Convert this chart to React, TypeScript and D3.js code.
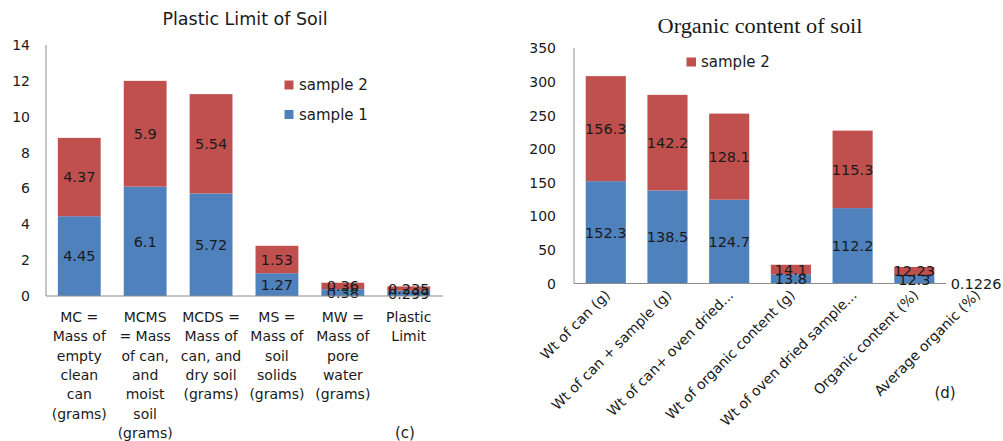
import React from "react";
import * as d3 from "d3";

// ---------- Left chart data ----------
const plasticCategories = ["MC", "MCMS", "MCDS", "MS", "MW", "PL"];
const plasticLabels = [
  ["MC =", "Mass of", "empty", "clean", "can", "(grams)"],
  ["MCMS", "= Mass", "of can,", "and", "moist", "soil", "(grams)"],
  ["MCDS =", "Mass of", "can, and", "dry soil", "(grams)"],
  ["MS =", "Mass of", "soil", "solids", "(grams)"],
  ["MW =", "Mass of", "pore", "water", "(grams)"],
  ["Plastic", "Limit"],
];
const plasticSample1 = [4.45, 6.1, 5.72, 1.27, 0.38, 0.299];
const plasticSample2 = [4.37, 5.9, 5.54, 1.53, 0.36, 0.235];
const plasticTicks = [0, 2, 4, 6, 8, 10, 12, 14];

// ---------- Right chart data ----------
const organicCategories = [
  "Wt of can (g)",
  "Wt of can + sample (g)",
  "Wt of can+  oven dried...",
  "Wt of organic content (g)",
  "Wt of oven dried sample...",
  "Organic content (%)",
  "Average organic (%)",
];
const organicSample1 = [152.3, 138.5, 124.7, 13.8, 112.2, 12.3, 0.1226];
const organicSample2: (number | null)[] = [156.3, 142.2, 128.1, 14.1, 115.3, 12.23, null];
const organicTicks = [0, 50, 100, 150, 200, 250, 300, 350];

const BLUE = "#4F81BD";
const RED = "#C0504D";
const AXIS = "#8c8c8c";
const TXT = "#1a1a1a";
const FONT = "DejaVu Sans";

export default function App() {
  // Left scales
  const yL = d3.scaleLinear().domain([0, 14]).range([296, 45]);
  const xL = d3
    .scaleBand<string>()
    .domain(plasticCategories)
    .range([46, 442])
    .paddingInner(0.35)
    .paddingOuter(0.18);

  // Right scales
  const yR = d3.scaleLinear().domain([0, 350]).range([283.5, 48.3]);
  const xR = d3
    .scaleBand<string>()
    .domain(organicCategories)
    .range([574, 1007.8])
    .paddingInner(0.35)
    .paddingOuter(0.19);

  const fmt = (v: number) => String(v);

  return (
    <svg
      width={1003}
      height={441}
      style={{ position: "absolute", left: 0, top: 0, background: "#fff" }}
      fontFamily={FONT}
    >
      <rect x={0} y={0} width={1003} height={441} fill="#fff" />

      {/* ================= LEFT CHART ================= */}
      <text x={245} y={25} textAnchor="middle" fontSize={17.5} fill={TXT}>
        Plastic Limit of Soil
      </text>
      {plasticTicks.map((t) => (
        <text
          key={t}
          x={30}
          y={yL(t)}
          dy="0.36em"
          textAnchor="end"
          fontSize={14}
          fill={TXT}
        >
          {t}
        </text>
      ))}
      {plasticCategories.map((c, i) => {
        const x = xL(c)!;
        const w = xL.bandwidth();
        const v1 = plasticSample1[i];
        const v2 = plasticSample2[i];
        return (
          <g key={c}>
            <rect x={x} y={yL(v1)} width={w} height={yL(0) - yL(v1)} fill={BLUE} />
            <rect x={x} y={yL(v1 + v2)} width={w} height={yL(v1) - yL(v1 + v2)} fill={RED} />
          </g>
        );
      })}
      {plasticCategories.map((c, i) => {
        const cx = xL(c)! + xL.bandwidth() / 2;
        const v1 = plasticSample1[i];
        const v2 = plasticSample2[i];
        return (
          <g key={c + "lbl"} fontSize={14.5} fill={TXT} textAnchor="middle">
            <text x={cx} y={yL(v1 / 2)} dy="0.36em">
              {fmt(v1)}
            </text>
            <text x={cx} y={yL(v1 + v2 / 2)} dy="0.36em">
              {fmt(v2)}
            </text>
          </g>
        );
      })}
      <line x1={46} x2={46} y1={45} y2={296} stroke={AXIS} strokeWidth={1} />
      <line x1={46} x2={443} y1={296} y2={296} stroke={AXIS} strokeWidth={1} />
      {plasticCategories.map((c, i) => {
        const cx = xL(c)! + xL.bandwidth() / 2;
        return (
          <text key={c + "x"} x={cx} y={322} textAnchor="middle" fontSize={14} fill={TXT}>
            {plasticLabels[i].map((ln, j) => (
              <tspan key={j} x={cx} y={322 + j * 19.3}>
                {ln}
              </tspan>
            ))}
          </text>
        );
      })}
      {/* legend */}
      <rect x={284.5} y={80.5} width={9} height={9} fill={RED} />
      <text x={299} y={90} fontSize={15} fill={TXT}>
        sample 2
      </text>
      <rect x={284.5} y={110} width={9} height={9} fill={BLUE} />
      <text x={299} y={120} fontSize={15} fill={TXT}>
        sample 1
      </text>
      <text x={405} y={438} textAnchor="middle" fontSize={15} fill={TXT}>
        (c)
      </text>

      {/* ================= RIGHT CHART ================= */}
      <text
        x={760}
        y={33}
        textAnchor="middle"
        fontSize={20}
        fontFamily="Liberation Serif"
        fill={TXT}
        textLength={205}
        lengthAdjust="spacingAndGlyphs"
      >
        Organic content of soil
      </text>
      {organicTicks.map((t) => (
        <text
          key={t}
          x={556}
          y={yR(t)}
          dy="0.36em"
          textAnchor="end"
          fontSize={14}
          fill={TXT}
        >
          {t}
        </text>
      ))}
      {organicCategories.map((c, i) => {
        const x = xR(c)!;
        const w = xR.bandwidth();
        const v1 = organicSample1[i];
        const v2 = organicSample2[i];
        return (
          <g key={c}>
            <rect x={x} y={yR(v1)} width={w} height={yR(0) - yR(v1)} fill={BLUE} />
            {v2 != null && (
              <rect x={x} y={yR(v1 + v2)} width={w} height={yR(v1) - yR(v1 + v2)} fill={RED} />
            )}
          </g>
        );
      })}
      <line x1={574} x2={574} y1={48} y2={283.5} stroke={AXIS} strokeWidth={1} />
      <line x1={574} x2={946} y1={283.5} y2={283.5} stroke={AXIS} strokeWidth={1} />
      {organicCategories.map((c, i) => {
        const cx = xR(c)! + xR.bandwidth() / 2;
        const v1 = organicSample1[i];
        const v2 = organicSample2[i];
        return (
          <g key={c + "lbl"} fontSize={14.5} fill={TXT} textAnchor="middle">
            <text x={cx} y={yR(v1 / 2)} dy="0.36em">
              {fmt(v1)}
            </text>
            {v2 != null && (
              <text x={cx} y={yR(v1 + v2 / 2)} dy="0.36em">
                {fmt(v2)}
              </text>
            )}
          </g>
        );
      })}
      {organicCategories.map((c) => {
        const cx = xR(c)! + xR.bandwidth() / 2;
        return (
          <text
            key={c + "x"}
            transform={`translate(${cx + 5},${296}) rotate(-45)`}
            textAnchor="end"
            fontSize={14}
            fill={TXT}
          >
            {c}
          </text>
        );
      })}
      <rect x={686.5} y={57.5} width={9.5} height={9} fill={RED} />
      <text x={701} y={67} fontSize={15} fill={TXT}>
        sample 2
      </text>
      <text x={945} y={398} textAnchor="middle" fontSize={15} fill={TXT}>
        (d)
      </text>
    </svg>
  );
}
